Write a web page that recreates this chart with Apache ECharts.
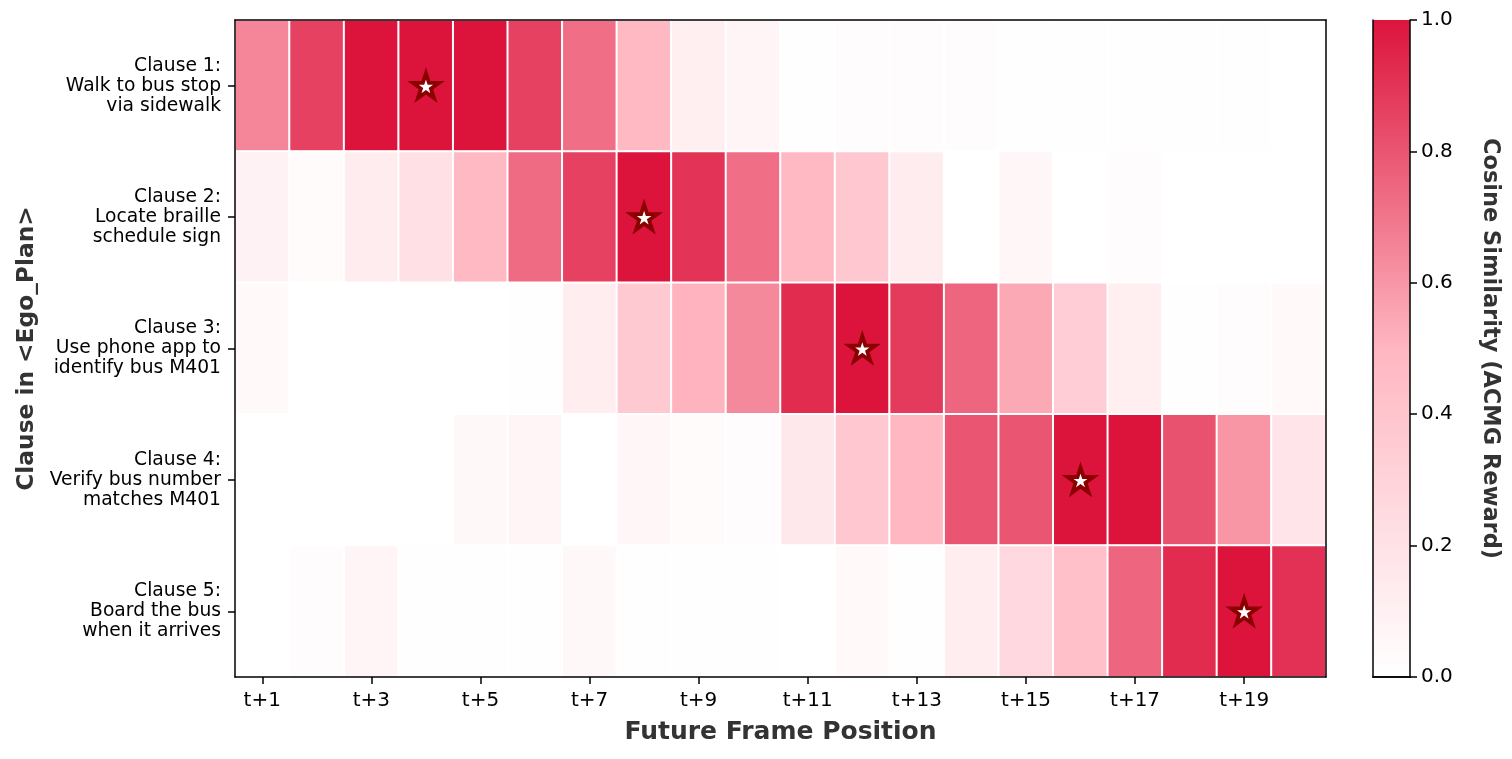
<!DOCTYPE html>
<html>
<head>
<meta charset="utf-8">
<script src="https://cdn.jsdelivr.net/npm/echarts@6/dist/echarts.min.js"></script>
<style>
html,body{margin:0;padding:0;background:#fff;}
#chart{width:1512px;height:759px;}
</style>
</head>
<body>
<div id="chart"></div>
<script>
// ---- data ----
const frames = ['t+1','t+2','t+3','t+4','t+5','t+6','t+7','t+8','t+9','t+10',
                't+11','t+12','t+13','t+14','t+15','t+16','t+17','t+18','t+19','t+20'];
const clauses = [
  'Clause 1:\nWalk to bus stop\nvia sidewalk',
  'Clause 2:\nLocate braille\nschedule sign',
  'Clause 3:\nUse phone app to\nidentify bus M401',
  'Clause 4:\nVerify bus number\nmatches M401',
  'Clause 5:\nBoard the bus\nwhen it arrives'
];
const clause1 = [0.65,0.86,1.00,1.00,1.00,0.86,0.72,0.48,0.11,0.07,0.01,0.02,0.02,0.02,0.01,0.01,0.01,0.01,0.01,0.00];
const clause2 = [0.09,0.03,0.13,0.21,0.48,0.73,0.86,1.00,0.90,0.72,0.48,0.38,0.13,0.00,0.06,0.00,0.02,0.00,0.00,0.00];
const clause3 = [0.04,0.00,0.00,0.00,0.00,0.01,0.12,0.37,0.51,0.64,0.93,1.00,0.88,0.75,0.54,0.34,0.11,0.01,0.02,0.04];
const clause4 = [0.00,0.00,0.00,0.00,0.05,0.07,0.00,0.06,0.03,0.02,0.16,0.38,0.49,0.80,0.80,1.00,1.00,0.81,0.60,0.18];
const clause5 = [0.00,0.02,0.07,0.01,0.01,0.01,0.05,0.01,0.01,0.01,0.00,0.04,0.01,0.12,0.26,0.43,0.75,0.93,1.00,0.91];
const starFrames = ['t+4','t+8','t+12','t+16','t+19'];
const colorbarTicks = [0, 0.2, 0.4, 0.6, 0.8, 1.0];
const cmapColors = ['#FFFFFF', '#FFB6C1', '#DC143C'];
const colorbarValue = [1];

// ---- build ----
const rows = [clause1, clause2, clause3, clause4, clause5];
const heatData = [];
rows.forEach((r, yi) => r.forEach((v, xi) => heatData.push([xi, yi, v])));
const starData = starFrames.map((f, i) => [f, clauses[i]]);

const FONT = 'DejaVu Sans';
const starPath = 'path://M100,0 L122.45,69.1 L195.11,69.1 L136.33,111.8 L158.78,180.9 L100,138.2 L41.22,180.9 L63.67,111.8 L4.89,69.1 L77.55,69.1 Z';
const lineStyle = {color: '#000', width: 1.5};

const chart = echarts.init(document.getElementById('chart'), null, {renderer: 'canvas'});
chart.setOption({
  animation: false,
  backgroundColor: '#fff',
  textStyle: {fontFamily: FONT},
  grid: [
    {left: 235, top: 20, width: 1091, height: 657},
    {left: 1373, top: 20, width: 37, height: 657}
  ],
  xAxis: [
    {
      type: 'category', gridIndex: 0, data: frames, position: 'bottom', z: 5,
      axisLine: {show: true, lineStyle},
      axisTick: {show: true, interval: 1, alignWithLabel: true, length: 7, lineStyle},
      axisLabel: {interval: 1, fontSize: 20, color: '#000', margin: 14, fontFamily: FONT},
      splitLine: {show: false},
      name: 'Future Frame Position', nameLocation: 'middle', nameGap: 43,
      nameTextStyle: {fontSize: 25, fontWeight: 'bold', color: '#333', fontFamily: FONT}
    },
    {
      type: 'category', gridIndex: 0, data: frames, position: 'top', z: 5,
      axisLine: {show: true, lineStyle}, axisTick: {show: false}, axisLabel: {show: false}
    },
    {
      type: 'category', gridIndex: 1, data: [''], position: 'bottom', z: 5,
      axisLine: {show: true, lineStyle}, axisTick: {show: false}, axisLabel: {show: false}
    },
    {
      type: 'category', gridIndex: 1, data: [''], position: 'top', z: 5,
      axisLine: {show: true, lineStyle}, axisTick: {show: false}, axisLabel: {show: false}
    }
  ],
  yAxis: [
    {
      type: 'category', gridIndex: 0, data: clauses, inverse: true, position: 'left', z: 5,
      axisLine: {show: true, lineStyle},
      axisTick: {show: true, alignWithLabel: true, length: 7, lineStyle},
      axisLabel: {fontSize: 18.7, lineHeight: 20, color: '#000', align: 'right', margin: 14, fontFamily: FONT},
      name: 'Clause in <Ego_Plan>', nameLocation: 'middle', nameGap: 197, nameRotate: 90,
      nameTextStyle: {fontSize: 23.3, fontWeight: 'bold', color: '#333', fontFamily: FONT}
    },
    {
      type: 'category', gridIndex: 0, data: clauses, inverse: true, position: 'right', z: 5,
      axisLine: {show: true, lineStyle}, axisTick: {show: false}, axisLabel: {show: false}
    },
    {
      type: 'value', gridIndex: 1, min: 0, max: 1, interval: 0.2, position: 'right', z: 5,
      axisLine: {show: true, lineStyle},
      axisTick: {show: true, length: 7, lineStyle},
      axisLabel: {fontSize: 20, color: '#000', margin: 11, fontFamily: FONT,
        formatter: v => (colorbarTicks.some(t => Math.abs(t - v) < 1e-9) ? v.toFixed(1) : '')},
      splitLine: {show: false},
      name: 'Cosine Similarity (ACMG Reward)', nameLocation: 'middle', nameGap: 68, nameRotate: -90,
      nameTextStyle: {fontSize: 22.5, fontWeight: 'bold', color: '#333', fontFamily: FONT}
    },
    {
      type: 'value', gridIndex: 1, min: 0, max: 1, position: 'left', z: 5,
      axisLine: {show: true, lineStyle}, axisTick: {show: false}, axisLabel: {show: false},
      splitLine: {show: false}
    }
  ],
  visualMap: {
    show: false, type: 'continuous', min: 0, max: 1, seriesIndex: 0, dimension: 2,
    inRange: {color: cmapColors}
  },
  series: [
    {
      type: 'heatmap', xAxisIndex: 0, yAxisIndex: 0, data: heatData,
      itemStyle: {borderColor: '#fff', borderWidth: 2},
      emphasis: {disabled: true}
    },
    {
      type: 'scatter', xAxisIndex: 0, yAxisIndex: 0, data: starData, z: 4,
      symbol: starPath, symbolKeepAspect: true, symbolSize: 26,
      itemStyle: {color: '#fff', borderColor: '#8B0000', borderWidth: 3.8, borderJoin: 'miter', opacity: 1}
    },
    {
      type: 'bar', xAxisIndex: 2, yAxisIndex: 2, data: colorbarValue,
      barWidth: '100%', barCategoryGap: 0,
      itemStyle: {
        color: new echarts.graphic.LinearGradient(0, 1, 0, 0,
          cmapColors.map((c, i) => ({offset: i / (cmapColors.length - 1), color: c})))
      }
    }
  ]
});
</script>
</body>
</html>
